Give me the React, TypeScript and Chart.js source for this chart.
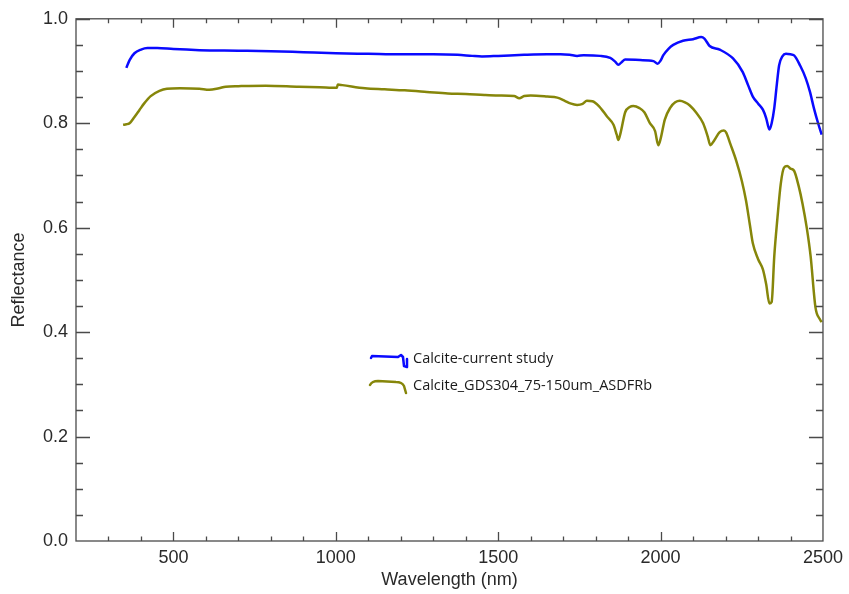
import React, { useEffect, useRef } from "react";
import { Chart, registerables } from "chart.js";

Chart.register(...registerables);

// Calcite - current study
const blueWavelength = [355, 365, 380, 400, 420, 450, 500, 580, 700, 800, 900, 1000, 1100, 1200, 1300, 1375, 1420, 1450, 1500, 1580, 1650, 1692, 1720, 1743, 1763, 1814, 1845, 1860, 1870, 1880, 1891, 1937, 1978, 1991, 2000, 2008, 2025, 2039, 2069, 2100, 2125, 2135, 2151, 2182, 2223, 2253, 2270, 2284, 2300, 2315, 2325, 2335, 2342, 2350, 2358, 2365, 2375, 2386, 2400, 2411, 2430, 2447, 2460, 2472, 2485, 2496];
const blueReflectance = [0.906, 0.921, 0.934, 0.941, 0.944, 0.944, 0.942, 0.940, 0.939, 0.938, 0.936, 0.934, 0.933, 0.932, 0.932, 0.931, 0.929, 0.928, 0.929, 0.931, 0.932, 0.932, 0.931, 0.929, 0.930, 0.929, 0.925, 0.918, 0.912, 0.917, 0.922, 0.921, 0.919, 0.914, 0.920, 0.930, 0.943, 0.950, 0.958, 0.961, 0.965, 0.962, 0.948, 0.941, 0.924, 0.898, 0.872, 0.851, 0.838, 0.826, 0.810, 0.788, 0.800, 0.829, 0.875, 0.911, 0.928, 0.933, 0.932, 0.930, 0.910, 0.886, 0.860, 0.829, 0.800, 0.778];

// Calcite_GDS304_75-150um_ASDFRb
const oliveWavelength = [345, 355, 365, 380, 395, 410, 430, 457, 480, 520, 580, 610, 640, 661, 700, 784, 886, 950, 1003, 1006, 1020, 1090, 1150, 1212, 1280, 1345, 1400, 1457, 1500, 1549, 1565, 1580, 1600, 1651, 1682, 1705, 1722, 1743, 1760, 1773, 1790, 1810, 1835, 1855, 1865, 1870, 1877, 1891, 1905, 1916, 1935, 1950, 1967, 1983, 1993, 2000, 2013, 2030, 2045, 2059, 2075, 2090, 2110, 2131, 2145, 2153, 2165, 2182, 2195, 2202, 2215, 2233, 2250, 2263, 2275, 2284, 2300, 2315, 2325, 2335, 2342, 2350, 2360, 2370, 2380, 2390, 2400, 2411, 2425, 2437, 2450, 2462, 2477, 2490, 2496];
const oliveReflectance = [0.797, 0.798, 0.800, 0.812, 0.825, 0.838, 0.852, 0.862, 0.866, 0.867, 0.866, 0.864, 0.867, 0.870, 0.871, 0.872, 0.870, 0.869, 0.868, 0.874, 0.873, 0.867, 0.865, 0.863, 0.860, 0.857, 0.856, 0.854, 0.853, 0.852, 0.848, 0.852, 0.853, 0.851, 0.849, 0.843, 0.838, 0.835, 0.837, 0.843, 0.842, 0.833, 0.813, 0.797, 0.778, 0.768, 0.782, 0.821, 0.831, 0.833, 0.829, 0.821, 0.800, 0.785, 0.758, 0.770, 0.807, 0.830, 0.840, 0.843, 0.840, 0.834, 0.820, 0.800, 0.775, 0.758, 0.767, 0.783, 0.786, 0.782, 0.760, 0.728, 0.690, 0.652, 0.605, 0.570, 0.540, 0.520, 0.492, 0.455, 0.458, 0.545, 0.620, 0.684, 0.715, 0.718, 0.713, 0.709, 0.680, 0.646, 0.600, 0.545, 0.447, 0.425, 0.419];

const seriesNames = ["Calcite-current study", "Calcite_GDS304_75-150um_ASDFRb"];
const seriesColors = ["#0a0aff", "#86860a"];

const xTickValues = [500, 1000, 1500, 2000, 2500];
const yTickValues = [0, 0.2, 0.4, 0.6, 0.8, 1.0];
const xMin = 200, xMax = 2500, xMinorStep = 100;
const yMin = 0, yMax = 1, yMinorStep = 0.05;

const FONT = "'Liberation Sans', Arial, sans-serif";
const AXIS_COLOR = "#4a4a4a";
const TEXT_COLOR = "#2a2a2a";

const framePlugin = {
  id: "frameTicksLegend",
  afterDraw(chart: any) {
    const { ctx, chartArea, scales } = chart;
    const { left, right, top, bottom } = chartArea;
    const xs = scales.x, ys = scales.y;
    ctx.save();
    ctx.strokeStyle = AXIS_COLOR;
    ctx.lineWidth = 1.3;
    ctx.strokeRect(left, top, right - left, bottom - top);
    ctx.beginPath();
    for (let v = xMin + xMinorStep; v < xMax; v += xMinorStep) {
      const px = Math.round(xs.getPixelForValue(v)) + 0.5;
      const major = v % 500 === 0;
      const len = major ? 9 : 4.5;
      ctx.moveTo(px, bottom); ctx.lineTo(px, bottom - len);
      ctx.moveTo(px, top); ctx.lineTo(px, top + len);
    }
    for (let i = 1; i * yMinorStep < yMax + 1e-9; i++) {
      const v = i * yMinorStep;
      const py = Math.round(ys.getPixelForValue(v)) + 0.5;
      const major = i % 4 === 0;
      const len = major ? 14 : 7;
      ctx.moveTo(left, py); ctx.lineTo(left + len, py);
      ctx.moveTo(right, py); ctx.lineTo(right - len, py);
    }
    ctx.stroke();

    // legend inside plot
    const lx = 370, ly = [356, 382];
    ctx.lineWidth = 2.5;
    ctx.lineJoin = "round";
    ctx.lineCap = "round";
    ctx.strokeStyle = seriesColors[0];
    ctx.beginPath();
    ctx.moveTo(lx + 1, ly[0] + 2);
    ctx.lineTo(lx + 2, ly[0]);
    ctx.lineTo(lx + 28, ly[0] + 1);
    ctx.lineTo(lx + 31, ly[0] - 1);
    ctx.lineTo(lx + 33, ly[0] + 1);
    ctx.lineTo(lx + 34, ly[0] + 10);
    ctx.lineTo(lx + 37, ly[0] + 11);
    ctx.lineTo(lx + 37, ly[0] + 3);
    ctx.stroke();
    ctx.strokeStyle = seriesColors[1];
    ctx.beginPath();
    ctx.moveTo(lx, ly[1] + 3);
    ctx.quadraticCurveTo(lx + 2, ly[1] - 1, lx + 8, ly[1] - 1);
    ctx.lineTo(lx + 26, ly[1]);
    ctx.quadraticCurveTo(lx + 32, ly[1], lx + 34, ly[1] + 4);
    ctx.lineTo(lx + 36, ly[1] + 11);
    ctx.stroke();

    ctx.fillStyle = "#1a1a1a";
    ctx.font = "14.5px 'Open Sans', sans-serif";
    ctx.textBaseline = "middle";
    ctx.textAlign = "left";
    ctx.fillText(seriesNames[0], lx + 43, ly[0] + 3);
    ctx.fillText(seriesNames[1], lx + 43, ly[1] + 4);
    ctx.restore();
  },
};

export default function App() {
  const canvasRef = useRef<HTMLCanvasElement>(null);

  useEffect(() => {
    document.body.style.margin = "0";
    const canvas = canvasRef.current;
    if (!canvas) return;
    const chart = new Chart(canvas, {
      type: "line",
      data: {
        datasets: [
          {
            label: seriesNames[0],
            data: blueWavelength.map((x, i) => ({ x, y: blueReflectance[i] })),
            borderColor: seriesColors[0],
            borderWidth: 2.5,
            pointRadius: 0,
            cubicInterpolationMode: "monotone",
            fill: false,
          },
          {
            label: seriesNames[1],
            data: oliveWavelength.map((x, i) => ({ x, y: oliveReflectance[i] })),
            borderColor: seriesColors[1],
            borderWidth: 2.5,
            pointRadius: 0,
            cubicInterpolationMode: "monotone",
            fill: false,
          },
        ],
      },
      options: {
        animation: false,
        responsive: false,
        maintainAspectRatio: false,
        layout: { padding: { left: 0, right: 23, top: 13, bottom: 0 } },
        plugins: { legend: { display: false }, tooltip: { enabled: false } },
        scales: {
          x: {
            type: "linear",
            min: xMin,
            max: xMax,
            grid: { display: false, tickLength: 0 },
            border: { display: false },
            afterBuildTicks: (s: any) => { s.ticks = xTickValues.map((v) => ({ value: v })); },
            afterFit: (s: any) => { s.height = 53; },
            ticks: {
              color: TEXT_COLOR,
              font: { family: FONT, size: 18 },
              padding: 6,
              maxRotation: 0,
              callback: (v: any) => String(v),
            },
            title: {
              display: true,
              text: "Wavelength (nm)",
              color: TEXT_COLOR,
              font: { family: FONT, size: 18 },
              padding: { top: 0, bottom: 3 },
            },
          },
          y: {
            type: "linear",
            min: yMin,
            max: yMax,
            grid: { display: false, tickLength: 0 },
            border: { display: false },
            afterBuildTicks: (s: any) => { s.ticks = yTickValues.map((v) => ({ value: v })); },
            afterFit: (s: any) => { s.width = 76; },
            ticks: {
              color: TEXT_COLOR,
              font: { family: FONT, size: 18 },
              padding: 8,
              callback: (v: any) => Number(v).toFixed(1),
            },
            title: {
              display: true,
              text: "Reflectance",
              color: TEXT_COLOR,
              font: { family: FONT, size: 18 },
              padding: { top: 8, bottom: 0 },
            },
          },
        },
      },
      plugins: [framePlugin],
    });
    return () => chart.destroy();
  }, []);

  return (
    <div style={{ width: 849, height: 594, background: "#fff" }}>
      <canvas ref={canvasRef} width={849} height={594} style={{ display: "block" }} />
    </div>
  );
}
